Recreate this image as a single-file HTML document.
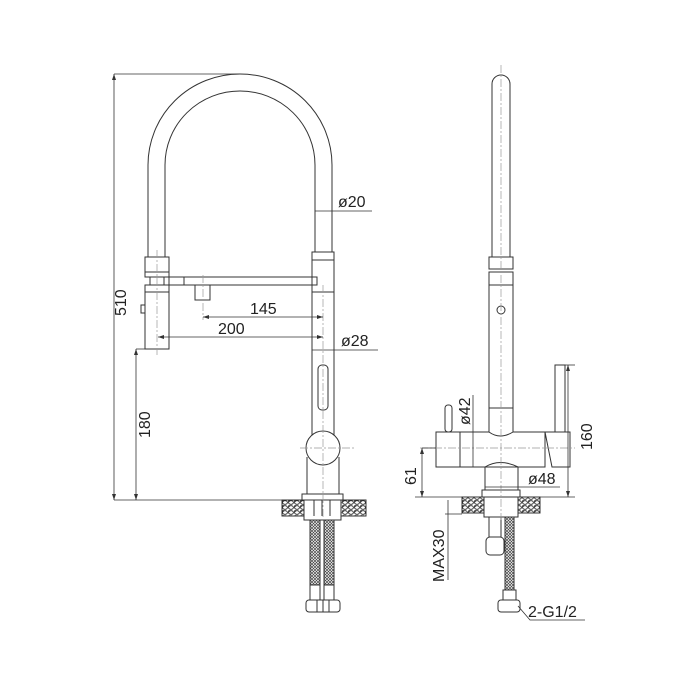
<!DOCTYPE html>
<html><head><meta charset="utf-8"><style>html,body{margin:0;background:#fff}svg{display:block}text{font-family:"Liberation Sans",sans-serif;font-size:16px;fill:#222}</style></head><body>
<svg width="700" height="700" viewBox="0 0 700 700" xmlns="http://www.w3.org/2000/svg">
<defs>
<pattern id="hose" width="3" height="3" patternUnits="userSpaceOnUse"><rect width="3" height="3" fill="#fff"/><path d="M0 0L3 3M3 0L0 3" stroke="#444" stroke-width="0.7"/></pattern>
<pattern id="gran" width="6" height="5" patternUnits="userSpaceOnUse"><rect width="6" height="5" fill="#fff"/><ellipse cx="3" cy="2.5" rx="2.4" ry="1.8" fill="none" stroke="#222" stroke-width="0.9"/><circle cx="0" cy="0" r="1.2" fill="none" stroke="#222" stroke-width="0.8"/></pattern>
</defs>
<g fill="none" stroke="#333" stroke-width="1">
<path d="M148 257 V165 A92 91 0 0 1 332 165 V252"/>
<path d="M165 257 V165 A75 74 0 0 1 315 165 V252"/>
<rect x="145" y="257" width="24" height="20"/>
<line x1="145" y1="272" x2="169" y2="272"/>
<rect x="150" y="277" width="14" height="8"/>
<rect x="169" y="277" width="15" height="8"/>
<rect x="184" y="277" width="133" height="8"/>
<rect x="145" y="285" width="24" height="64"/>
<line x1="145" y1="292" x2="169" y2="292"/>
<rect x="141" y="305" width="4" height="8"/>
<rect x="195" y="285" width="15" height="15"/>
<rect x="312" y="252" width="22" height="8"/>
<line x1="312" y1="260" x2="312" y2="457"/><line x1="334" y1="260" x2="334" y2="457"/>
<line x1="312" y1="292" x2="334" y2="292"/>
<rect x="318" y="365" width="10" height="45" rx="4"/>
<circle cx="323" cy="448" r="17" fill="#fff"/>
<line x1="307" y1="457" x2="307" y2="494"/><line x1="339" y1="457" x2="339" y2="494"/>
<rect x="302" y="494" width="41" height="6"/>
<rect x="282" y="500" width="84" height="16" fill="url(#gran)"/>
<rect x="304" y="500" width="37" height="20" fill="#fff"/>
<line x1="314" y1="500" x2="314" y2="516"/><line x1="322" y1="500" x2="322" y2="516"/><line x1="330" y1="500" x2="330" y2="516"/>
<rect x="310" y="520" width="10" height="65" fill="url(#hose)"/>
<rect x="324" y="520" width="10" height="65" fill="url(#hose)"/>
<rect x="310" y="585" width="10" height="15"/><rect x="324" y="585" width="10" height="15"/>
<rect x="306" y="600" width="34" height="12" rx="3"/>
<line x1="317" y1="600" x2="317" y2="612"/><line x1="323" y1="600" x2="323" y2="612"/><line x1="329" y1="600" x2="329" y2="612"/>
<path d="M492 257 V84 A9 9 0 0 1 510 84 V257"/>
<rect x="489" y="257" width="24" height="12"/>
<rect x="489" y="272" width="24" height="13"/>
<circle cx="501" cy="310" r="4"/>
<line x1="489" y1="285" x2="489" y2="432"/><line x1="513" y1="285" x2="513" y2="432"/>
<line x1="489" y1="408" x2="513" y2="408"/>
<path d="M436 432 H489 Q500 440 513 432 H545 V467 H518 Q500 458 485 467 H436 Z"/>
<line x1="460" y1="432" x2="460" y2="467"/>
<rect x="445" y="405" width="7" height="27" rx="3"/>
<rect x="555" y="365" width="10" height="67"/>
<path d="M545 432 H570 V467 H552 Z"/>
<rect x="485" y="467" width="33" height="23"/>
<rect x="482" y="490" width="38" height="7"/>
<rect x="462" y="497" width="78" height="16" fill="url(#gran)"/>
<rect x="484" y="497" width="34" height="20" fill="#fff"/>
<rect x="489" y="517" width="12" height="20"/><rect x="486" y="537" width="18" height="18" rx="4"/>
<rect x="505" y="517" width="9" height="73" fill="url(#hose)"/>
<rect x="503" y="590" width="13" height="10"/>
<rect x="498" y="600" width="22" height="12" rx="3"/>
</g>
<g stroke="#999" stroke-width="0.7" stroke-dasharray="8 2 2 2" fill="none">
<line x1="157" y1="250" x2="157" y2="355"/><line x1="203" y1="275" x2="203" y2="320"/>
<line x1="323" y1="285" x2="323" y2="520"/><line x1="300" y1="448" x2="355" y2="448"/>
<line x1="501" y1="65" x2="501" y2="520"/><line x1="420" y1="448" x2="575" y2="448"/>
</g>
<g stroke="#333" stroke-width="0.8" fill="none">
<line x1="114" y1="74" x2="240" y2="74"/><line x1="114" y1="74" x2="114" y2="500"/>
<line x1="114" y1="500" x2="283" y2="500"/>
<line x1="136" y1="349" x2="145" y2="349"/><line x1="136" y1="349" x2="136" y2="500"/>
<line x1="203" y1="317" x2="323" y2="317"/><line x1="158" y1="337" x2="323" y2="337"/>
<line x1="315" y1="211" x2="372" y2="211"/><line x1="312" y1="350" x2="378" y2="350"/>
<line x1="422" y1="448" x2="436" y2="448"/><line x1="422" y1="448" x2="422" y2="497"/><line x1="415" y1="497" x2="462" y2="497"/>
<line x1="565" y1="365" x2="575" y2="365"/><line x1="568" y1="365" x2="568" y2="497"/><line x1="540" y1="497" x2="575" y2="497"/>
<line x1="448" y1="500" x2="448" y2="580"/><line x1="445" y1="514" x2="462" y2="514"/>
<line x1="473" y1="395" x2="473" y2="467"/>
<line x1="485" y1="487" x2="518" y2="487"/><line x1="518" y1="487" x2="560" y2="487"/>
<path d="M518 606 L530 620 H585"/>
</g>
<g fill="#333">
<path d="M114 74 l-2 6 h4z"/><path d="M114 500 l-2 -6 h4z"/><path d="M136 349 l-2 6 h4z"/><path d="M136 500 l-2 -6 h4z"/>
<path d="M203 317 l6 -2 v4z"/><path d="M323 317 l-6 -2 v4z"/><path d="M158 337 l6 -2 v4z"/><path d="M323 337 l-6 -2 v4z"/>
<path d="M568 365 l-2 6 h4z"/><path d="M568 497 l-2 -6 h4z"/><path d="M422 448 l-2 6 h4z"/><path d="M422 497 l-2 -6 h4z"/>
</g>
<text x="250" y="314">145</text>
<text x="218" y="334">200</text>
<text x="338" y="207">ø20</text>
<text x="341" y="346">ø28</text>
<text x="528" y="484">ø48</text>
<text x="528" y="617">2-G1/2</text>
<text transform="translate(126 316) rotate(-90)">510</text>
<text transform="translate(150 438) rotate(-90)">180</text>
<text transform="translate(416 485) rotate(-90)">61</text>
<text transform="translate(444 582) rotate(-90)">MAX30</text>
<text transform="translate(470 425) rotate(-90)">ø42</text>
<text transform="translate(592 450) rotate(-90)">160</text>
</svg>
</body></html>
